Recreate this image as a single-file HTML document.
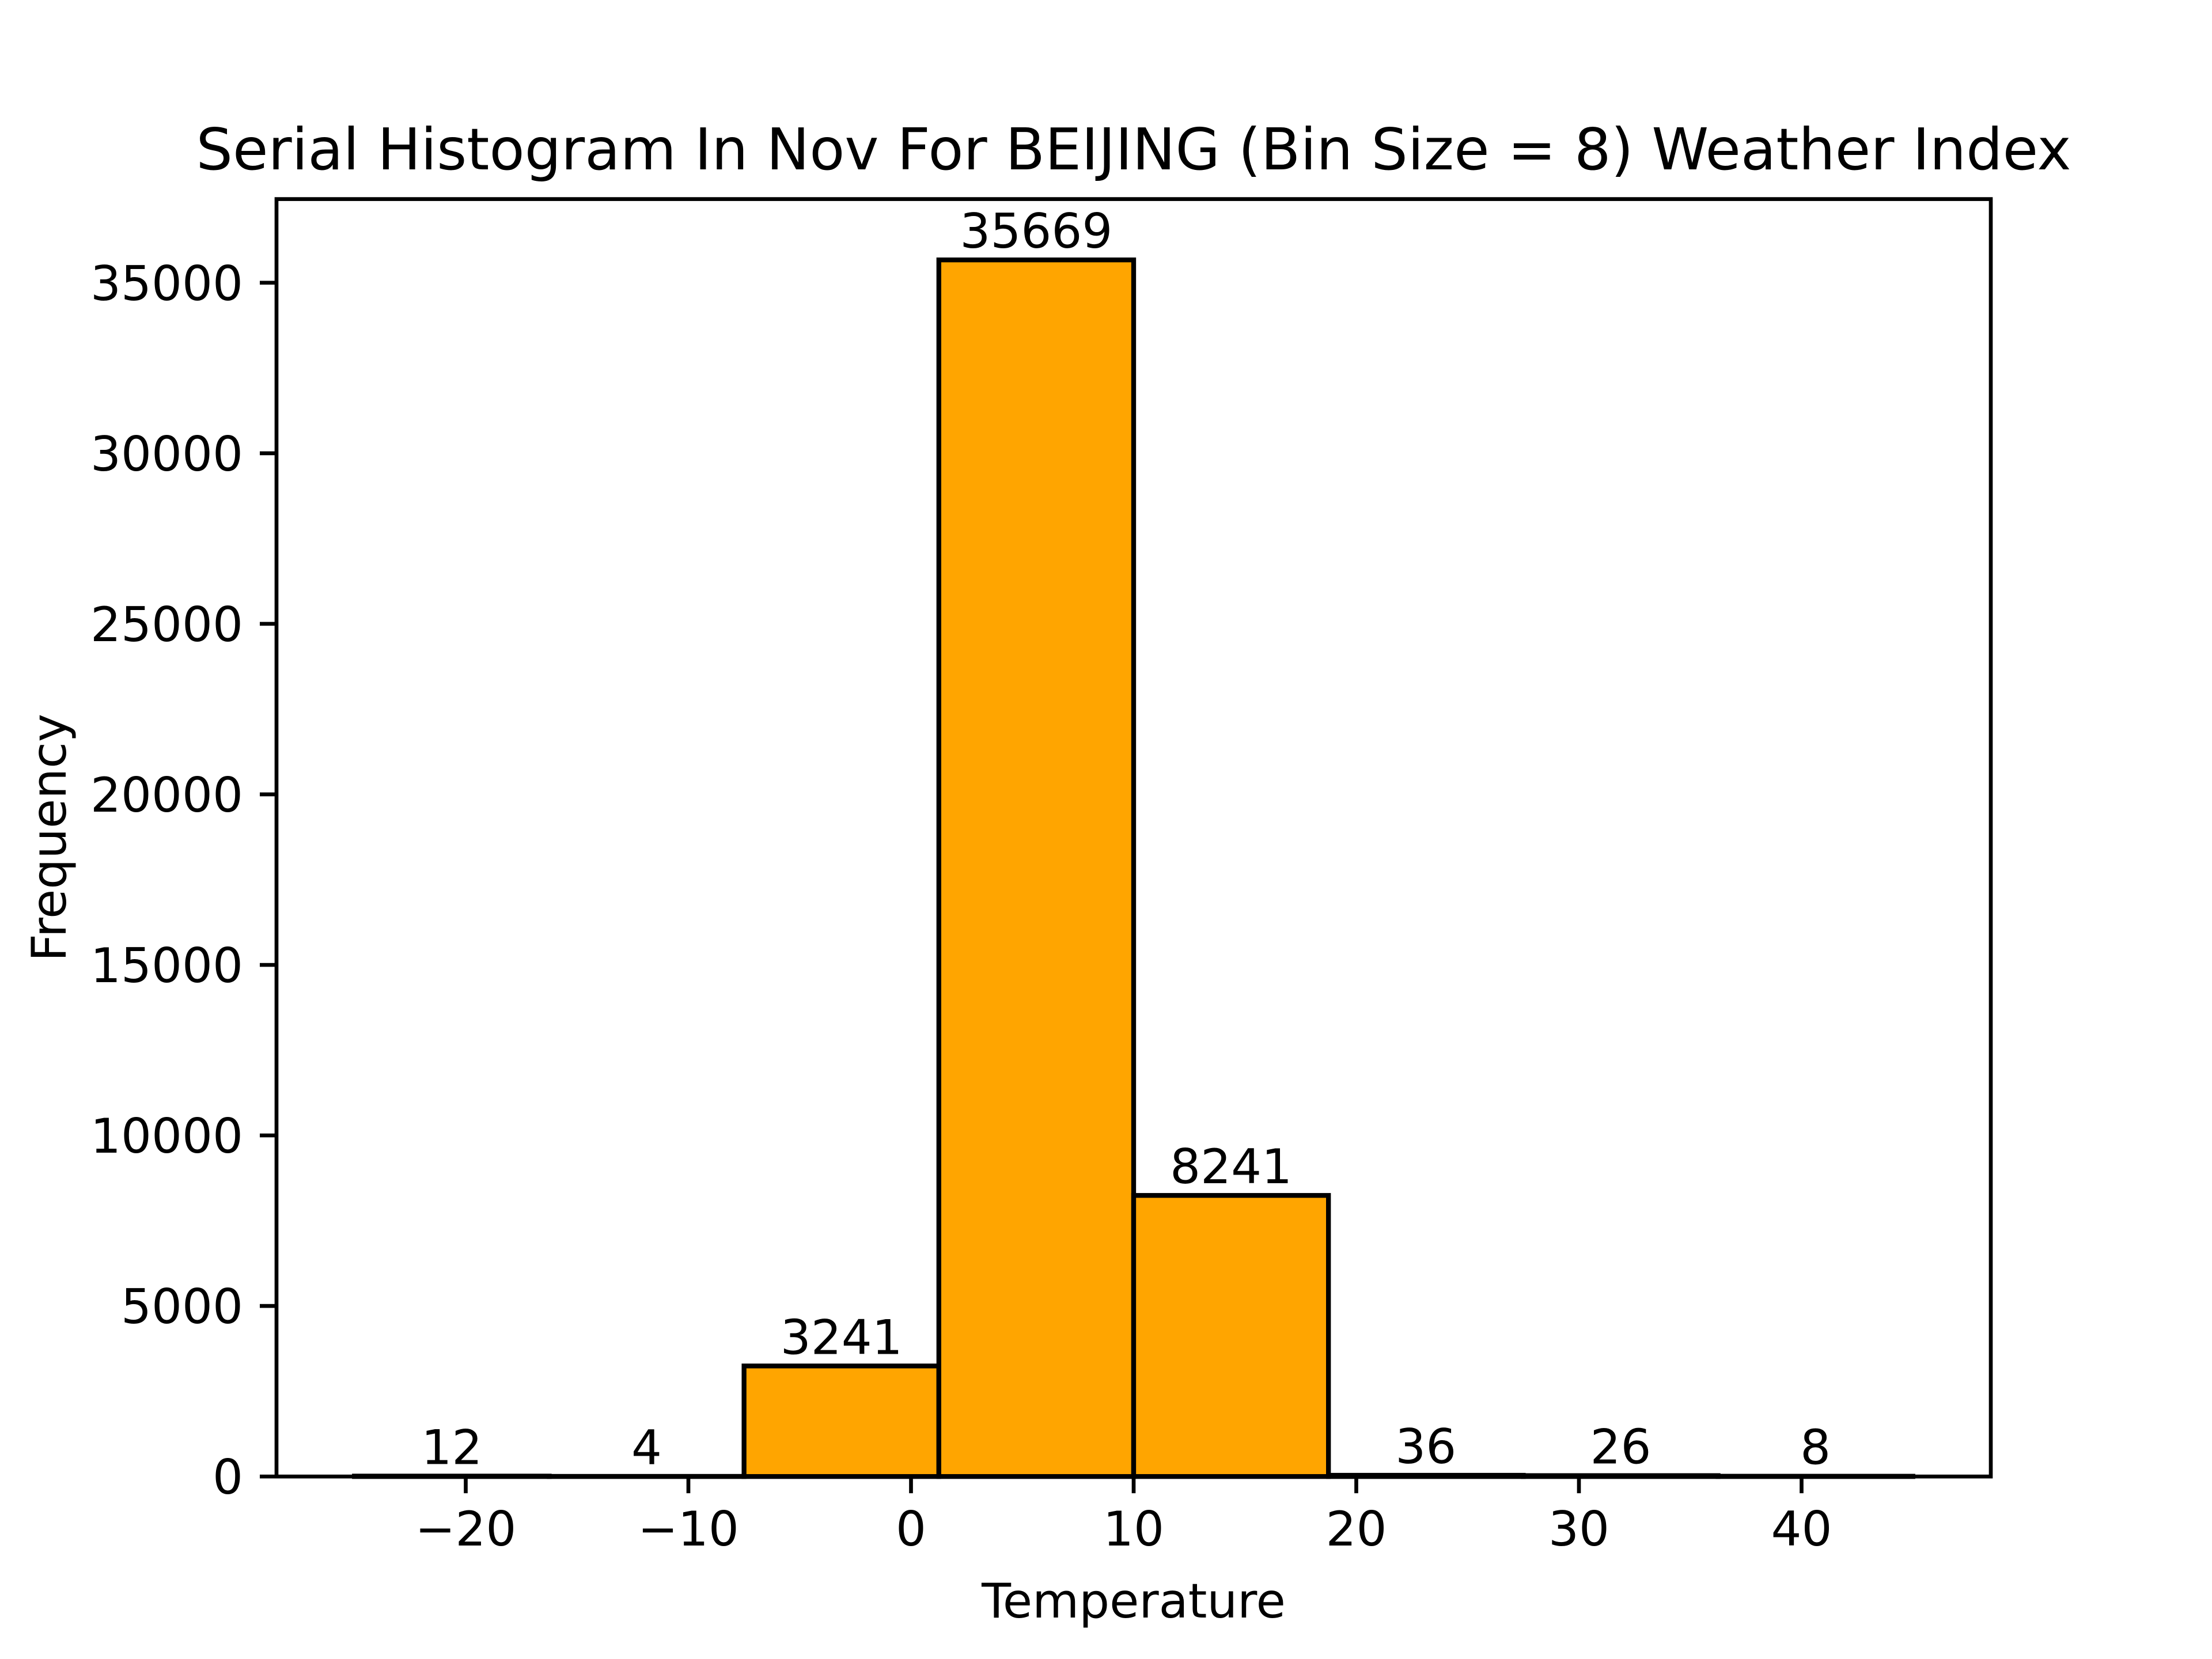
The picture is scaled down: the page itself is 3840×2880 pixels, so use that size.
<!DOCTYPE html>
<html><head><meta charset="utf-8"><style>
html,body{margin:0;padding:0;background:#fff;}
svg{display:block;}
text{font-family:"DejaVu Sans","Liberation Sans",sans-serif;fill:#000;}
</style></head><body>
<svg id="chart" width="3840" height="2880" viewBox="0 0 3840 2880" xmlns="http://www.w3.org/2000/svg">
<rect width="3840" height="2880" fill="#fff"/>
<text x="1968" y="294" font-size="100" text-anchor="middle">Serial Histogram In Nov For BEIJING (Bin Size = 8) Weather Index</text>
<text x="1968" y="2808" font-size="83.3" text-anchor="middle">Temperature</text>
<text x="0" y="0" font-size="83.3" text-anchor="middle" transform="translate(114,1454) rotate(-90)">Frequency</text>
<g id="bars"></g>
<g id="labels"></g>
<g id="xticks"></g>
<g id="yticks"></g>
<rect x="480" y="345.6" width="2976" height="2217.6" fill="none" stroke="#000" stroke-width="6.67"/>
</svg>
<script>
const binEdges = [-25, -16.25, -7.5, 1.25, 10, 18.75, 27.5, 36.25, 45];
const counts = [12, 4, 3241, 35669, 8241, 36, 26, 8];
const xTickValues = [-20, -10, 0, 10, 20, 30, 40];
const yTickValues = [0, 5000, 10000, 15000, 20000, 25000, 30000, 35000];

const L = 480, R = 3456, T = 345.6, B = 2563.2;
const xMin = -28.5, xMax = 48.5;
const yMax = Math.max(...counts) * 1.05;
const sx = v => L + (v - xMin) / (xMax - xMin) * (R - L);
const sy = v => B - v / yMax * (B - T);
const NS = "http://www.w3.org/2000/svg";
function mk(tag, attrs, parent) {
  const e = document.createElementNS(NS, tag);
  for (const k in attrs) e.setAttribute(k, attrs[k]);
  parent.appendChild(e);
  return e;
}
const bars = document.getElementById('bars');
const labels = document.getElementById('labels');
for (let i = 0; i < counts.length; i++) {
  const x0 = sx(binEdges[i]), x1 = sx(binEdges[i + 1]);
  const y = sy(counts[i]);
  const r = mk('rect', {x: x0, y: y, width: x1 - x0, height: B - y, fill: '#FFA500', stroke: '#000', 'stroke-width': 8.33}, bars);
  
  
  const t = mk('text', {x: (x0 + x1) / 2, y: y - 21, 'font-size': 83.3, 'text-anchor': 'middle'}, labels);
  t.textContent = String(counts[i]);
  
  
}
const xt = document.getElementById('xticks');
xTickValues.forEach(v => {
  const x = sx(v);
  const l = mk('line', {x1: x, x2: x, y1: B, y2: B + 29, stroke: '#000', 'stroke-width': 6.67}, xt);
  
  
  const t = mk('text', {x: x, y: B + 58 + 62, 'font-size': 83.3, 'text-anchor': 'middle'}, xt);
  t.textContent = v < 0 ? '\u2212' + Math.abs(v) : String(v);
  
  
});
const yt = document.getElementById('yticks');
yTickValues.forEach(v => {
  const y = sy(v);
  const l = mk('line', {x1: L - 29, x2: L, y1: y, y2: y, stroke: '#000', 'stroke-width': 6.67}, yt);
  
  
  const t = mk('text', {x: L - 58, y: y + 30, 'font-size': 83.3, 'text-anchor': 'end'}, yt);
  t.textContent = String(v);
  
  
});
</script>
</body></html>
